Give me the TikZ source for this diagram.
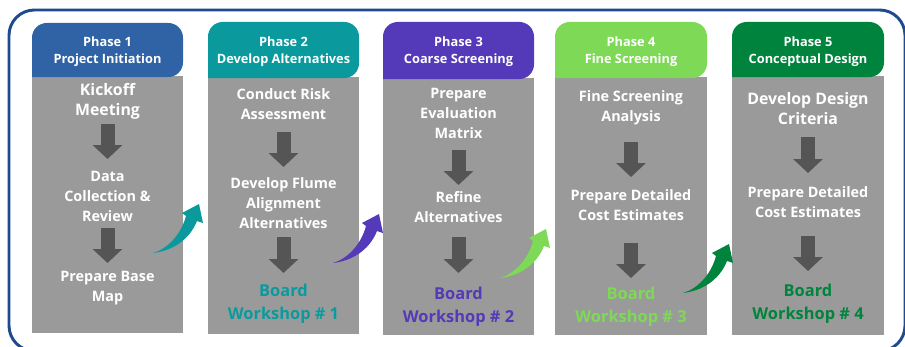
\documentclass[tikz,border=0pt]{standalone}
\usepackage{fontspec}
\setmainfont{Open Sans}
\usetikzlibrary{arrows.meta}
\usetikzlibrary{positioning}

\definecolor{frameblue}{HTML}{1E4B8E}
\definecolor{phone}{HTML}{3063A5}
\definecolor{phtwo}{HTML}{0A9A9E}
\definecolor{phthree}{HTML}{5439B8}
\definecolor{phfour}{HTML}{7ED957}
\definecolor{phfive}{HTML}{00843D}
\definecolor{bodygray}{HTML}{9A9A9A}
\definecolor{arrowgray}{HTML}{555555}

\tikzset{
  headtext/.style={text=white, font=\bfseries\fontsize{9.6}{12.75}\selectfont, align=center, inner sep=0pt},
  steptext/.style={text=white, font=\bfseries\fontsize{10.8}{15}\selectfont, align=center, inner sep=0pt},
  bigsteptext/.style={steptext, font=\bfseries\fontsize{11.9}{15}\selectfont},
  boardtext/.style={font=\bfseries\fontsize{12.3}{17.25}\selectfont, align=center, inner sep=0pt},
  blockarrow/.style={draw=arrowgray, line width=10.5pt, -{Triangle[width=21.75pt,length=10.5pt]}},
  bendarrow/.pic={
    \fill[pic actions] (0,0) .. controls (14,-4) and (28,-18) .. (33,-37)
      -- (29,-40) -- (46,-49) -- (50,-30) -- (44,-32)
      .. controls (36,-12) and (18,-2) .. (0,0) -- cycle;
  }
}

\begin{document}
\begin{tikzpicture}[x=0.75pt, y=-0.75pt]
    \useasboundingbox (0,0) rectangle (905,346);

    % outer frame
    \draw[frameblue, line width=2.2pt, rounded corners=19pt] (9,10) rectangle (905,351);

    % phase columns
    \fill[bodygray] (32,76) rectangle (183,333);
    \fill[phone, rounded corners=11pt] (32,77) -- (32,23) -- (183,23) -- (183,77) [sharp corners] -- cycle;
    \fill[bodygray] (208,77) rectangle (359,334);
    \fill[phtwo, rounded corners=11pt] (208,78) -- (208,22) -- (359,22) -- (359,78) [sharp corners] -- cycle;
    \fill[bodygray] (383,78) rectangle (534,335);
    \fill[phthree, rounded corners=11pt] (383,79) -- (383,22) -- (534,22) -- (534,79) [sharp corners] -- cycle;
    \fill[bodygray] (555,77) rectangle (707,335);
    \fill[phfour, rounded corners=11pt] (555,78) -- (555,22) -- (707,22) -- (707,78) [sharp corners] -- cycle;
    \fill[bodygray] (732,76) rectangle (884,335);
    \fill[phfive, rounded corners=11pt] (732,77) -- (732,22) -- (884,22) -- (884,77) [sharp corners] -- cycle;

    % phase 1
    \node[headtext] (h1) at (107.5,51.5) {Phase 1\\Project Initiation};
    \node[bigsteptext] (t1a) at (107.5,101) {Kickoff\\Meeting};
    \node[steptext] (t1b) at (107.5,196) {Data\\Collection \&\\Review};
    \node[steptext] (t1c) at (107.5,288) {Prepare Base\\Map};
    \draw[blockarrow] (t1a.south |- 0,124) -- (t1b.north |- 0,159);
    \draw[blockarrow] (t1b.south |- 0,228) -- (t1c.north |- 0,263);

    % phase 2
    \node[headtext] (h2) at (283.5,51.5) {Phase 2\\Develop Alternatives};
    \node[steptext] (t2a) at (283.5,104) {Conduct Risk\\Assessment};
    \node[steptext] (t2b) at (283.5,203) {Develop Flume\\Alignment\\Alternatives};
    \node[boardtext, text=phtwo] (t2c) at (283.5,303.5) {Board\\Workshop \# 1};
    \draw[blockarrow] (t2a.south |- 0,132) -- (t2b.north |- 0,167);
    \draw[blockarrow] (t2b.south |- 0,237) -- (t2c.north |- 0,273);

    % phase 3
    \node[headtext] (h3) at (458.5,52) {Phase 3\\Coarse Screening};
    \node[steptext] (t3a) at (458.5,113) {Prepare\\Evaluation\\Matrix};
    \node[steptext] (t3b) at (458.5,207) {Refine\\Alternatives};
    \node[boardtext, text=phthree] (t3c) at (458.5,306.5) {Board\\Workshop \# 2};
    \draw[blockarrow] (t3a.south |- 0,150) -- (t3b.north |- 0,185);
    \draw[blockarrow] (t3b.south |- 0,237) -- (t3c.north |- 0,273);

    % phase 4
    \node[headtext] (h4) at (631,52) {Phase 4\\Fine Screening};
    \node[steptext] (t4a) at (631,108) {Fine Screening\\Analysis};
    \node[steptext] (t4b) at (631,205) {Prepare Detailed\\Cost Estimates};
    \node[boardtext, text=phfour] (t4c) at (631,306.5) {Board\\Workshop \# 3};
    \draw[blockarrow] (t4a.south |- 0,142) -- (t4b.north |- 0,177);
    \draw[blockarrow] (t4b.south |- 0,243) -- (t4c.north |- 0,278);

    % phase 5
    \node[headtext] (h5) at (808,52) {Phase 5\\Conceptual Design};
    \node[bigsteptext] (t5a) at (808,108.5) {Develop Design\\Criteria};
    \node[steptext] (t5b) at (808,202.5) {Prepare Detailed\\Cost Estimates};
    \node[boardtext, text=phfive] (t5c) at (808,303.5) {Board\\Workshop \# 4};
    \draw[blockarrow] (t5a.south |- 0,137) -- (t5b.north |- 0,173);
    \draw[blockarrow] (t5b.south |- 0,236) -- (t5c.north |- 0,271);

    % hand-over arrows
    \pic[fill=phtwo] at (153,253) {bendarrow};
    \pic[fill=phthree] at (333,263) {bendarrow};
    \pic[fill=phfour] at (500,278) {bendarrow};
    \pic[fill=phfive] at (683,293) {bendarrow};

\end{tikzpicture}
\end{document}
